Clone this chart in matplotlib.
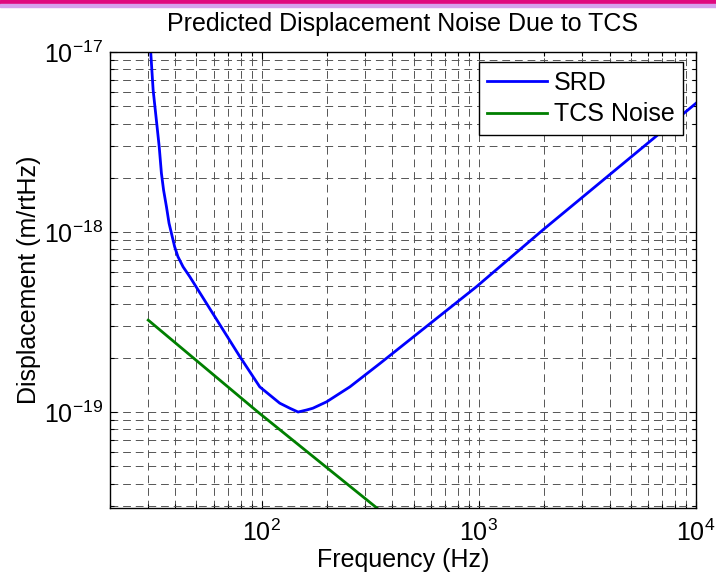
import numpy as np
import matplotlib.pyplot as plt
from matplotlib.patches import Rectangle
from matplotlib.ticker import NullFormatter

plt.rcParams['font.family'] = ['Liberation Sans', 'DejaVu Sans']
plt.rcParams['mathtext.default'] = 'regular'

# SRD curve (Hz, m/rtHz)
srd_freq = [30.8, 31.6, 32.7, 33.7, 34.5, 35.3, 36.4, 37.4, 38.4, 39.7, 41.1,
            43.4, 46.6, 55.6, 79.3, 97.9, 121, 134.6, 147, 160.7, 172, 199,
            254.6, 350, 975, 1977, 10000]
srd_disp = [1.0e-17, 6.15e-18, 4.19e-18, 2.98e-18, 2.12e-18, 1.71e-18, 1.38e-18,
            1.12e-18, 9.8e-19, 8.28e-19, 7.3e-19, 6.41e-19, 5.65e-19, 4.02e-19,
            2.03e-19, 1.38e-19, 1.12e-19, 1.05e-19, 1.0e-19, 1.026e-19, 1.05e-19,
            1.14e-19, 1.38e-19, 1.86e-19, 4.97e-19, 1.03e-18, 5.19e-18]

# TCS noise estimate
tcs_freq = [30, 96, 339, 1000, 10000]
tcs_disp = [3.24e-19, 1.0e-19, 2.93e-20, 9.6e-21, 9.6e-22]

fs = 18

fig = plt.figure(figsize=(7.16, 5.79), dpi=100)
# slide header band
fig.patches.append(Rectangle((0, 1 - 4.5/579), 1, 4.5/579, transform=fig.transFigure,
                             color='#e0097f', zorder=0))
fig.patches.append(Rectangle((0, 1 - 6.5/579), 1, 2/579, transform=fig.transFigure,
                             color='#d6a2ee', zorder=0))

ax = fig.add_axes([110/716, 1 - 508/579, 586/716, 456/579])
ax.loglog(srd_freq, srd_disp, color='#0000ff', lw=2, label='SRD')
ax.loglog(tcs_freq, tcs_disp, color='#007f00', lw=2, label='TCS Noise')
ax.set_xlim(20, 1e4)
ax.set_ylim(2.93e-20, 1e-17)
ax.xaxis.set_minor_formatter(NullFormatter())
ax.yaxis.set_minor_formatter(NullFormatter())

ax.grid(True, which='both', color='#555555', lw=0.7, linestyle=(0, (8, 5)))
ax.tick_params(which='both', direction='in', top=True, right=True, width=0.8)
ax.tick_params(which='major', length=5, labelsize=fs)
ax.tick_params(axis='x', which='major', pad=8)
ax.tick_params(axis='y', which='major', pad=5)
ax.tick_params(which='minor', length=3)
for s in ax.spines.values():
    s.set_linewidth(1.0)

ax.set_title('Predicted Displacement Noise Due to TCS', fontsize=fs, pad=15)
ax.set_xlabel('Frequency (Hz)', fontsize=fs, labelpad=2)
ax.set_ylabel('Displacement (m/rtHz)', fontsize=fs, labelpad=2)

leg = ax.legend(loc='upper right', bbox_to_anchor=(683/716, 1 - 62/579),
                bbox_transform=fig.transFigure, borderaxespad=0,
                fontsize=fs, fancybox=False, framealpha=1,
                edgecolor='black', handlelength=2.4, borderpad=0.35,
                labelspacing=0.3, handletextpad=0.25)
leg.get_frame().set_linewidth(1.0)

fig.savefig('out.png', dpi=100)
